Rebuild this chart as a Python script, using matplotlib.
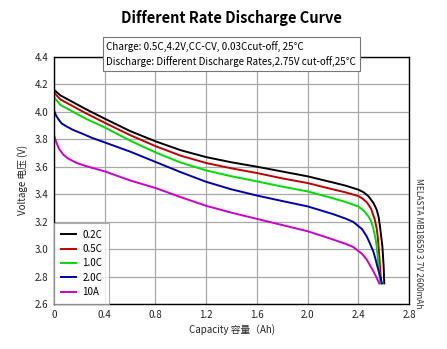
import matplotlib

matplotlib.use("Agg")
import matplotlib.pyplot as plt
from matplotlib.patches import Rectangle

plt.rcParams["font.family"] = ["Noto Sans CJK SC", "DejaVu Sans"]

# Discharge curves: capacity (Ah) vs voltage (V) for each rate
cap_02c = [0, 0.05, 0.13, 0.25, 0.4, 0.6, 0.8, 1.0, 1.2, 1.4, 1.6, 1.8, 2.0,
           2.2, 2.3, 2.4, 2.44, 2.48, 2.52, 2.545, 2.56, 2.571, 2.59, 2.60,
           2.605]
v_02c = [4.16, 4.12, 4.08, 4.02, 3.95, 3.86, 3.785, 3.72, 3.67, 3.632, 3.60,
         3.565, 3.53, 3.485, 3.462, 3.433, 3.415, 3.385, 3.335, 3.287, 3.235,
         3.166, 3.02, 2.875, 2.75]

cap_05c = [0, 0.05, 0.13, 0.25, 0.4, 0.6, 0.8, 1.0, 1.2, 1.4, 1.6, 1.8, 2.0,
           2.2, 2.3, 2.4, 2.43, 2.47, 2.5, 2.53, 2.545, 2.553, 2.566, 2.58]
v_05c = [4.14, 4.09, 4.05, 3.99, 3.92, 3.83, 3.75, 3.68, 3.627, 3.588, 3.554,
         3.515, 3.481, 3.435, 3.413, 3.386, 3.37, 3.338, 3.295, 3.215, 3.15,
         3.093, 2.948, 2.75]

cap_10c = [0, 0.05, 0.13, 0.25, 0.4, 0.6, 0.8, 1.0, 1.2, 1.4, 1.6, 1.8, 2.0,
           2.2, 2.3, 2.4, 2.44, 2.479, 2.5, 2.518, 2.535, 2.545, 2.56, 2.574]
v_10c = [4.107, 4.05, 4.01, 3.95, 3.886, 3.79, 3.704, 3.63, 3.573, 3.53, 3.493,
         3.455, 3.42, 3.37, 3.343, 3.31, 3.282, 3.239, 3.205, 3.154, 3.08,
         3.02, 2.875, 2.75]

cap_20c = [0, 0.015, 0.034, 0.06, 0.1, 0.15, 0.23, 0.3, 0.4, 0.6, 0.8, 1.0,
           1.2, 1.4, 1.6, 1.8, 2.0, 2.2, 2.3, 2.36, 2.43, 2.466, 2.49, 2.518,
           2.535, 2.55, 2.57, 2.587]
v_20c = [4.01, 3.975, 3.947, 3.915, 3.893, 3.868, 3.838, 3.81, 3.777, 3.71,
         3.635, 3.56, 3.49, 3.435, 3.39, 3.35, 3.311, 3.255, 3.222, 3.198,
         3.145, 3.093, 3.045, 2.984, 2.93, 2.875, 2.81, 2.75]

cap_10a = [0, 0.01, 0.021, 0.04, 0.074, 0.11, 0.18, 0.25, 0.4, 0.6, 0.8, 1.0,
           1.2, 1.4, 1.6, 1.8, 2.0, 2.2, 2.3, 2.36, 2.43, 2.466, 2.49, 2.518,
           2.54, 2.565]
v_10a = [3.83, 3.80, 3.772, 3.73, 3.687, 3.66, 3.627, 3.605, 3.566, 3.50,
         3.445, 3.378, 3.315, 3.265, 3.22, 3.175, 3.13, 3.07, 3.038, 3.015,
         2.965, 2.924, 2.885, 2.84, 2.80, 2.75]

labels = ["0.2C", "0.5C", "1.0C", "2.0C", "10A"]
colors = ["#000000", "#c00000", "#00dd00", "#0000b0", "#cc00cc"]
series = [(cap_02c, v_02c), (cap_05c, v_05c), (cap_10c, v_10c),
          (cap_20c, v_20c), (cap_10a, v_10a)]

x_ticks = [0, 0.4, 0.8, 1.2, 1.6, 2.0, 2.4, 2.8]
y_ticks = [2.6, 2.8, 3.0, 3.2, 3.4, 3.6, 3.8, 4.0, 4.2, 4.4]

fig = plt.figure(figsize=(4.47, 3.49), dpi=100)
ax = fig.add_axes([0.1208, 0.129, 0.7942, 0.708])

for (c, v), lab, col in zip(series, labels, colors):
    ax.plot(c, v, color=col, lw=1.4, label=lab, solid_joinstyle="round")

ax.set_xlim(0, 2.8)
ax.set_ylim(2.6, 4.4)
ax.set_xticks(x_ticks)
ax.set_xticklabels([f"{t:.1f}" if t else "0" for t in x_ticks])
ax.set_yticks(y_ticks)
ax.set_yticklabels([f"{t:.1f}" for t in y_ticks])
ax.tick_params(labelsize=7, length=0, pad=4, colors="#222222")
ax.grid(True, color="#a8a8a8", lw=0.9)
for sp in ax.spines.values():
    sp.set_color("black")
    sp.set_linewidth(1.0)

ax.set_xlabel("Capacity 容量（Ah)", fontsize=7, labelpad=3, color="#222222")
ax.set_ylabel("Voltage 电压 (V)", fontsize=7, labelpad=5, color="#222222")

leg = ax.legend(loc="lower left", borderaxespad=0, fontsize=7, frameon=True,
                fancybox=False, edgecolor="#999999", handlelength=1.6,
                handletextpad=0.6, labelspacing=0.45, borderpad=0.7)
leg.get_frame().set_linewidth(0.8)

fig.text(0.518, 0.948, "Different Rate Discharge Curve", ha="center",
         va="center", fontsize=10.5, fontweight="bold")

# conditions box over the top edge of the plot
box = Rectangle((103 / 447, 1 - 71 / 349), 257 / 447, 34 / 349,
                transform=fig.transFigure, facecolor="white",
                edgecolor="#777777", lw=0.8, zorder=5)
fig.patches.append(box)
fig.text(106 / 447, 1 - 47 / 349, "Charge: 0.5C,4.2V,CC-CV, 0.03Ccut-off, 25°C",
         ha="left", va="center", fontsize=7.1, zorder=6)
fig.text(106 / 447, 1 - 62 / 349,
         "Discharge: Different Discharge Rates,2.75V cut-off,25°C",
         ha="left", va="center", fontsize=7.1, zorder=6)

fig.text(419 / 447, 1 - 178 / 349, "MELASTA MB18650 3.7V 2600mAh",
         rotation=-90, ha="center", va="top", fontsize=6, color="#333333")

fig.savefig("out.png", dpi=100)
